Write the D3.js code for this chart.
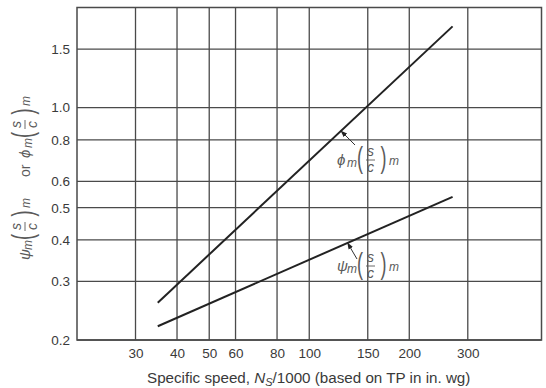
<!DOCTYPE html>
<html><head><meta charset="utf-8">
<script src="https://cdn.jsdelivr.net/npm/d3@7"></script>
<style>
html,body{margin:0;padding:0;background:#fff;}
svg{display:block;font-family:"Liberation Sans",Arial,Helvetica,sans-serif;}
</style></head>
<body><svg id="c" width="546" height="388"></svg>
<script>
// ---- data ----
const xTicks = [30, 40, 50, 60, 80, 100, 150, 200, 300];
const yTicks = [0.2, 0.3, 0.4, 0.5, 0.6, 0.8, 1.0, 1.5];
const yTickLabels = ["0.2", "0.3", "0.4", "0.5", "0.6", "0.8", "1.0", "1.5"];
const xDomain = [20, 500];
const yDomain = [0.2, 2.0];
const phiNs = [35, 270];
const phiVal = [0.259, 1.755];
const psiNs = [35, 270];
const psiVal = [0.220, 0.539];
const phiArrowNs = 124.6;   // point on phi line where arrow touches
const psiArrowNs = 130.4;   // point on psi line where arrow touches
const xTitle = ["Specific speed, ", "N", "S", "/1000 (based on TP in in. wg)"];

// ---- chart ----
const svg = d3.select("#c");
const L = 77, R = 541.5, T = 7.5, B = 340;
const x = d3.scaleLog().domain(xDomain).range([L, R]);
const y = d3.scaleLog().domain(yDomain).range([B, T]);
const gridCol = "#4a4a4a";

// grid
const g = svg.append("g");
g.selectAll("line.vx").data(xTicks).join("line")
  .attr("x1", d => x(d)).attr("x2", d => x(d)).attr("y1", T).attr("y2", B)
  .attr("stroke", gridCol).attr("stroke-width", 1.3);
g.selectAll("line.hy").data(yTicks).join("line")
  .attr("y1", d => y(d)).attr("y2", d => y(d)).attr("x1", L).attr("x2", R)
  .attr("stroke", gridCol).attr("stroke-width", 1.3);
g.append("rect").attr("x", L).attr("y", T).attr("width", R - L).attr("height", B - T)
  .attr("fill", "none").attr("stroke", gridCol).attr("stroke-width", 1.5);

// axes tick labels via d3 axes (domain/ticks hidden)
const xAxis = d3.axisBottom(x).tickValues(xTicks).tickFormat(d3.format("d")).tickSize(0).tickPadding(8);
const gx = svg.append("g").attr("transform", `translate(0,${B})`).call(xAxis);
gx.select(".domain").remove();
gx.selectAll("text").attr("font-size", 13.5).attr("fill", "#3a3a3a")
  .attr("font-family", "Liberation Sans, Arial, sans-serif");

const yAxis = d3.axisLeft(y).tickValues(yTicks).tickFormat((d, i) => yTickLabels[i]).tickSize(0).tickPadding(7);
const gy = svg.append("g").attr("transform", `translate(${L},0)`).call(yAxis);
gy.select(".domain").remove();
gy.selectAll("text").attr("font-size", 13.5).attr("fill", "#3a3a3a")
  .attr("font-family", "Liberation Sans, Arial, sans-serif");

// curves
const line = d3.line().x(d => x(d[0])).y(d => y(d[1]));
svg.append("path").datum(d3.zip(phiNs, phiVal)).attr("d", line)
  .attr("fill", "none").attr("stroke", "#222").attr("stroke-width", 2);
svg.append("path").datum(d3.zip(psiNs, psiVal)).attr("d", line)
  .attr("fill", "none").attr("stroke", "#222").attr("stroke-width", 2);

// value on a straight log-log line
function onLine(xs, ys, xv) {
  const t = (Math.log(xv) - Math.log(xs[0])) / (Math.log(xs[1]) - Math.log(xs[0]));
  return Math.exp(Math.log(ys[0]) + t * (Math.log(ys[1]) - Math.log(ys[0])));
}

// expression  G_m (s/c)_m
function paren(e, ch, px) {
  e.append("g").attr("transform", `translate(${px},-4.5) scale(1,1.6)`)
    .append("text").attr("x", 0).attr("y", 4.7).attr("font-size", 18)
    .attr("font-style", "normal").text(ch);
}
function drawExpr(parent, greek, tx, ty, rot) {
  const e = parent.append("g").attr("transform", `translate(${tx},${ty}) rotate(${rot})`)
    .attr("fill", "#5a5a5a").attr("font-style", "italic");
  e.append("text").attr("x", 0).attr("y", 0).attr("font-size", 15).text(greek);
  e.append("text").attr("x", 10).attr("y", 2).attr("font-size", 12).text("m");
  paren(e, "(", 20);
  e.append("text").attr("x", 33.5).attr("y", -9.5).attr("font-size", 14).attr("text-anchor", "middle").text("s");
  e.append("line").attr("x1", 29).attr("x2", 38).attr("y1", -5).attr("y2", -5)
    .attr("stroke", "#5a5a5a").attr("stroke-width", 0.9);
  e.append("text").attr("x", 33.5).attr("y", 6.5).attr("font-size", 14).attr("text-anchor", "middle").text("c");
  paren(e, ")", 43.5);
  e.append("text").attr("x", 52).attr("y", 0).attr("font-size", 12).text("m");
  return e;
}

// annotations
svg.append("defs").append("marker").attr("id", "ah").attr("viewBox", "0 0 10 10")
  .attr("refX", 9).attr("refY", 5).attr("markerWidth", 7).attr("markerHeight", 7)
  .attr("orient", "auto").append("path").attr("d", "M0,1.5 L10,5 L0,8.5 Z").attr("fill", "#222");

function annotate(xs, ys, xv, greek, lx, ly, ax, ay) {
  const px = x(xv), py = y(onLine(xs, ys, xv));
  svg.append("line").attr("x1", ax).attr("y1", ay).attr("x2", px).attr("y2", py)
    .attr("stroke", "#333").attr("stroke-width", 1).attr("marker-end", "url(#ah)");
  drawExpr(svg, greek, lx, ly, 0);
}
annotate(phiNs, phiVal, phiArrowNs, "\u03D5", 337, 165, 355, 145);
annotate(psiNs, psiVal, psiArrowNs, "\u03C8", 337, 271, 357, 259);

// x title
const xt = svg.append("text").attr("x", 147).attr("y", 383).attr("font-size", 15.2).attr("fill", "#3a3a3a");
xt.append("tspan").text(xTitle[0]);
xt.append("tspan").attr("font-style", "italic").text(xTitle[1]);
xt.append("tspan").attr("font-style", "italic").attr("font-size", 11).attr("dy", 3).text(xTitle[2]);
xt.append("tspan").attr("dy", -3).text(xTitle[3]);

// y title (rotated)
const yl = svg.append("g");
drawExpr(yl, "\u03C8", 30, 260, -90);
yl.append("text").attr("transform", "translate(30,177) rotate(-90)").attr("font-size", 14)
  .attr("fill", "#5a5a5a").text("or");
drawExpr(yl, "\u03D5", 30, 158, -90);
</script></body></html>
